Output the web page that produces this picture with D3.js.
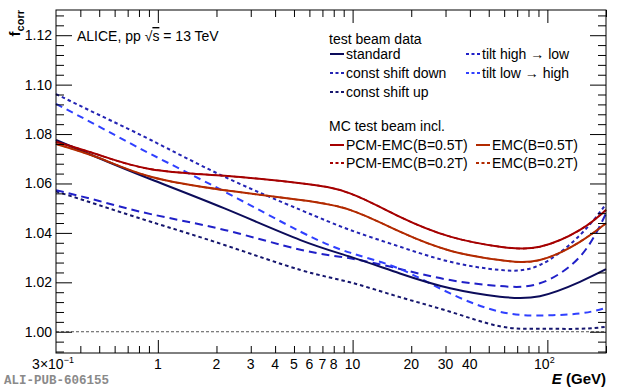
<!DOCTYPE html>
<html>
<head>
<meta charset="utf-8">
<script src="https://cdn.jsdelivr.net/npm/d3@7"></script>
<style>
  body { margin: 0; background: #fff; }
  text { font-family: "Liberation Sans", Arial, Helvetica, sans-serif; }
</style>
</head>
<body>
<div id="chart"></div>
<script>
let energy = [0.3, 0.5, 0.92, 2.2, 5.4, 9.7, 17.5, 31.7, 57, 91.5, 147, 200];

// Test beam data variations
let standard     = [1.0776, 1.0702, 1.0617, 1.0499, 1.0371, 1.0304, 1.0236, 1.0176, 1.0142, 1.0144, 1.0202, 1.0253];
let shiftDown    = [1.0962, 1.0877, 1.0776, 1.0627, 1.0493, 1.0412, 1.0344, 1.0283, 1.0250, 1.0270, 1.0391, 1.0517];
let shiftUp      = [1.0568, 1.0512, 1.0445, 1.0351, 1.0250, 1.0200, 1.0140, 1.0081, 1.0022, 1.0012, 1.0012, 1.0020];
let tiltHighLow  = [1.0573, 1.0529, 1.0476, 1.0412, 1.0332, 1.0297, 1.0254, 1.0209, 1.0185, 1.0196, 1.0304, 1.0479];
let tiltLowHigh  = [1.0922, 1.0830, 1.0719, 1.0567, 1.0405, 1.0320, 1.0254, 1.0155, 1.0081, 1.0066, 1.0074, 1.0097];

// MC test beam incl. (B=0.2T curves lie on top of the B=0.5T ones)
let pcmEmc05 = [1.0769, 1.0715, 1.0658, 1.0631, 1.0601, 1.0560, 1.0465, 1.0385, 1.0344, 1.0344, 1.0412, 1.0493];
let emc05    = [1.0760, 1.0703, 1.0627, 1.0573, 1.0533, 1.0493, 1.0405, 1.0328, 1.0290, 1.0290, 1.0364, 1.0439];
let pcmEmc02 = [1.0769, 1.0715, 1.0658, 1.0631, 1.0601, 1.0560, 1.0465, 1.0385, 1.0344, 1.0344, 1.0412, 1.0493];
let emc02    = [1.0760, 1.0703, 1.0627, 1.0573, 1.0533, 1.0493, 1.0405, 1.0328, 1.0290, 1.0290, 1.0364, 1.0439];

// Axis ticks
let xMajor = [1, 10, 100];
let xMinor = [0.4, 0.5, 0.6, 0.7, 0.8, 0.9, 2, 3, 4, 5, 6, 7, 8, 9, 20, 30, 40, 50, 60, 70, 80, 90, 200];
let xLabels = [
  {v: 0.3, base: "3×10", sup: "−1"}, {v: 1, base: "1"}, {v: 2, base: "2"}, {v: 3, base: "3"},
  {v: 4, base: "4"}, {v: 5, base: "5"}, {v: 6, base: "6"}, {v: 7, base: "7"}, {v: 8, base: "8"},
  {v: 10, base: "10"}, {v: 20, base: "20"}, {v: 30, base: "30"}, {v: 40, base: "40"},
  {v: 100, base: "10", sup: "2"}
];
let yMajor = [1.00, 1.02, 1.04, 1.06, 1.08, 1.10, 1.12];

let width = 620, height = 391;
let svg = d3.select("#chart").append("svg")
  .attr("width", width)
  .attr("height", height);

let x = d3.scaleLog().domain([0.3, 200]).range([56, 606]);
let y = d3.scaleLinear().domain([0.9914, 1.1302]).range([353, 10]);

// Series styles
let series = [
  {name: "pcmEmc02", values: pcmEmc02, color: "#a50000", dash: "4,3", w: 1.6},
  {name: "emc02",    values: emc02,    color: "#b22a00", dash: "4,3", w: 1.6},
  {name: "shiftUp",     values: shiftUp,     color: "#16166e", dash: "3.5,3", w: 2},
  {name: "tiltHighLow", values: tiltHighLow, color: "#2020c8", dash: "8,5", w: 2},
  {name: "tiltLowHigh", values: tiltLowHigh, color: "#3040ff", dash: "7,5", w: 2},
  {name: "shiftDown",   values: shiftDown,   color: "#2424b4", dash: "3.5,3", w: 2},
  {name: "standard",    values: standard,    color: "#0c0c5a", dash: null, w: 2},
  {name: "emc05",    values: emc05,    color: "#b22a00", dash: null, w: 2},
  {name: "pcmEmc05", values: pcmEmc05, color: "#a50000", dash: null, w: 2}
];

// Reference line at 1
svg.append("line")
  .attr("x1", x(0.3)).attr("x2", x(200))
  .attr("y1", y(1)).attr("y2", y(1))
  .attr("stroke", "#555").attr("stroke-width", 1)
  .attr("stroke-dasharray", "3,2");

let line = d3.line()
  .x(function (d) { return x(d[0]); })
  .y(function (d) { return y(d[1]); })
  .curve(d3.curveNatural);

svg.append("g")
  .selectAll("path")
  .data(series)
  .enter().append("path")
  .attr("d", function (s) { return line(s.values.map(function (v, i) { return [energy[i], v]; })); })
  .attr("fill", "none")
  .attr("stroke", function (s) { return s.color; })
  .attr("stroke-width", function (s) { return s.w; })
  .attr("stroke-dasharray", function (s) { return s.dash; });

// Ticks on all four sides, pointing inwards
function addAxis(axis, transform) {
  let g = svg.append("g").attr("transform", transform).call(axis);
  g.select(".domain").remove();
  g.selectAll("line").attr("stroke", "#000");
}
addAxis(d3.axisBottom(x).tickValues(xMajor).tickSize(-13).tickSizeOuter(0).tickFormat(""), "translate(0,353)");
addAxis(d3.axisBottom(x).tickValues(xMinor).tickSize(-7).tickSizeOuter(0).tickFormat(""), "translate(0,353)");
addAxis(d3.axisTop(x).tickValues(xMajor).tickSize(-13).tickSizeOuter(0).tickFormat(""), "translate(0,10)");
addAxis(d3.axisTop(x).tickValues(xMinor).tickSize(-7).tickSizeOuter(0).tickFormat(""), "translate(0,10)");

let yMinor = d3.range(0.992, 1.1301, 0.004).filter(function (v) {
  return Math.abs(Math.round(v * 50) - v * 50) > 0.01;
});
addAxis(d3.axisLeft(y).tickValues(yMajor).tickSize(-16).tickSizeOuter(0).tickFormat(""), "translate(56,0)");
addAxis(d3.axisLeft(y).tickValues(yMinor).tickSize(-8).tickSizeOuter(0).tickFormat(""), "translate(56,0)");
addAxis(d3.axisRight(y).tickValues(yMajor).tickSize(-16).tickSizeOuter(0).tickFormat(""), "translate(606,0)");
addAxis(d3.axisRight(y).tickValues(yMinor).tickSize(-8).tickSizeOuter(0).tickFormat(""), "translate(606,0)");

// Frame
svg.append("rect")
  .attr("x", 56).attr("y", 10).attr("width", 550).attr("height", 343)
  .attr("fill", "none").attr("stroke", "#000").attr("stroke-width", 1);

// Y tick labels
svg.selectAll(".ylab")
  .data(yMajor)
  .enter().append("text")
  .attr("x", 52)
  .attr("y", function (d) { return y(d) + 5; })
  .attr("text-anchor", "end")
  .attr("font-size", 14)
  .text(d3.format(".2f"));

// X tick labels
let xl = svg.selectAll(".xlab")
  .data(xLabels)
  .enter().append("text")
  .attr("x", function (d) { return x(d.v) - (d.sup ? 3 : 0); })
  .attr("y", 368.5)
  .attr("text-anchor", "middle")
  .attr("font-size", 14);
xl.append("tspan").text(function (d) { return d.base; });
xl.filter(function (d) { return d.sup; })
  .append("tspan")
  .attr("dy", -6)
  .attr("font-size", 9)
  .text(function (d) { return d.sup; });

// Axis titles
svg.append("text")
  .attr("x", 606).attr("y", 384)
  .attr("text-anchor", "end")
  .attr("font-size", 15)
  .attr("font-weight", "bold")
  .html('<tspan font-style="italic">E</tspan> (GeV)');

svg.append("text")
  .attr("transform", "translate(20,10) rotate(-90)")
  .attr("text-anchor", "end")
  .attr("font-size", 15)
  .attr("font-weight", "bold")
  .html('f<tspan dy="4" font-size="11">corr</tspan>');

// Label
svg.append("text")
  .attr("x", 77).attr("y", 41)
  .attr("font-size", 14)
  .html('ALICE, pp √<tspan style="text-decoration: overline">s</tspan> = 13 TeV');

svg.append("text")
  .attr("x", 4).attr("y", 384)
  .attr("font-weight", "bold")
  .attr("font-size", 12.5)
  .attr("fill", "#8a8a8a")
  .style("font-family", "'Liberation Mono', 'DejaVu Sans Mono', monospace")
  .text("ALI-PUB-606155");

// Legend
let legendHeaders = [
  {text: "test beam data", x: 329, y: 44},
  {text: "MC test beam incl.", x: 329, y: 131}
];
let legendItems = [
  {text: "standard",          x: 330, y: 54,  s: "standard"},
  {text: "const shift down",  x: 330, y: 73,  s: "shiftDown"},
  {text: "const shift up",    x: 330, y: 92,  s: "shiftUp"},
  {text: "tilt high → low",   x: 466, y: 54,  s: "tiltHighLow"},
  {text: "tilt low → high",   x: 466, y: 73,  s: "tiltLowHigh"},
  {text: "PCM-EMC(B=0.5T)",   x: 330, y: 145, s: "pcmEmc05"},
  {text: "PCM-EMC(B=0.2T)",   x: 330, y: 163, s: "pcmEmc02"},
  {text: "EMC(B=0.5T)",       x: 476, y: 145, s: "emc05"},
  {text: "EMC(B=0.2T)",       x: 476, y: 163, s: "emc02"}
];
let styleOf = {};
series.forEach(function (s) { styleOf[s.name] = s; });

svg.selectAll(".lhead")
  .data(legendHeaders)
  .enter().append("text")
  .attr("x", function (d) { return d.x; })
  .attr("y", function (d) { return d.y; })
  .attr("font-size", 14)
  .text(function (d) { return d.text; });

let li = svg.selectAll(".litem")
  .data(legendItems)
  .enter().append("g");
li.append("line")
  .attr("x1", function (d) { return d.x; })
  .attr("x2", function (d) { return d.x + 14; })
  .attr("y1", function (d) { return d.y; })
  .attr("y2", function (d) { return d.y; })
  .attr("stroke", function (d) { return styleOf[d.s].color; })
  .attr("stroke-width", 2)
  .attr("stroke-dasharray", function (d) { return styleOf[d.s].dash ? "3,2.5" : null; });
li.append("text")
  .attr("x", function (d) { return d.x + 16; })
  .attr("y", function (d) { return d.y + 5; })
  .attr("font-size", 14)
  .text(function (d) { return d.text; });
</script>
</body>
</html>
